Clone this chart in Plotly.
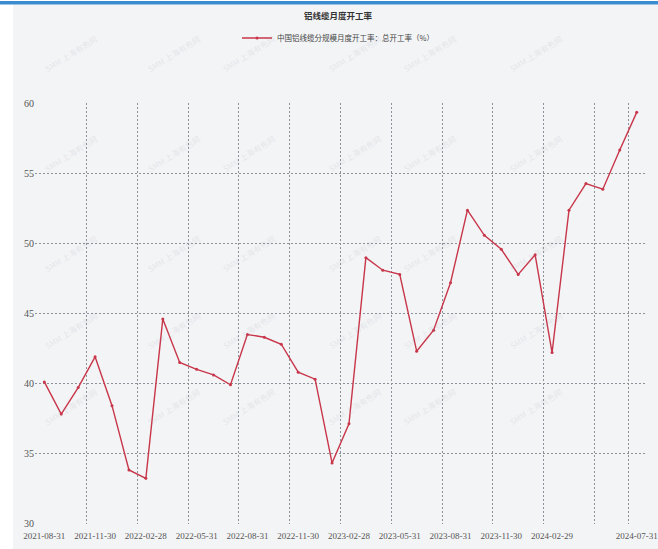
import plotly.graph_objects as go

# ---- data ----
dates = [
    "2021-08-31", "2021-09-30", "2021-10-31", "2021-11-30", "2021-12-31",
    "2022-01-31", "2022-02-28", "2022-03-31", "2022-04-30", "2022-05-31",
    "2022-06-30", "2022-07-31", "2022-08-31", "2022-09-30", "2022-10-31",
    "2022-11-30", "2022-12-31", "2023-01-31", "2023-02-28", "2023-03-31",
    "2023-04-30", "2023-05-31", "2023-06-30", "2023-07-31", "2023-08-31",
    "2023-09-30", "2023-10-31", "2023-11-30", "2023-12-31", "2024-01-31",
    "2024-02-29", "2024-03-31", "2024-04-30", "2024-05-31", "2024-06-30",
    "2024-07-31",
]
rate = [
    40.1, 37.8, 39.7, 41.9, 38.4, 33.8, 33.2, 44.6, 41.5, 41.0,
    40.6, 39.9, 43.5, 43.3, 42.8, 40.8, 40.3, 34.3, 37.1, 49.0,
    48.1, 47.8, 42.3, 43.8, 47.2, 52.4, 50.6, 49.6, 47.8, 49.2,
    42.2, 52.4, 54.3, 53.9, 56.7, 59.4,
]
label_idx = [0, 3, 6, 9, 12, 15, 18, 21, 24, 27, 30, 35]
grid_idx = [0, 3, 6, 9, 12, 15, 18, 21, 24, 27, 30, 33, 35]
y_ticks = [30, 35, 40, 45, 50, 55, 60]

title_text = "铝线缆月度开工率"
series_name = "中国铝线缆分规模月度开工率：总开工率（%）"
watermark = "SMM 上海有色网"

# ---- geometry helpers (pixel -> paper) ----
W, H = 658, 549
ML, MR, MT, MB = 35, 12, 103, 25
PW, PH = W - ML - MR, H - MT - MB


def px_x(px):
    return (px - ML) / PW


def px_y(py):
    return (H - MB - py) / PH


n = len(dates)
xi = list(range(n))

fig = go.Figure()
fig.add_trace(go.Scatter(
    x=xi, y=rate, name=series_name, mode="lines+markers",
    line=dict(color="#c8364a", width=1.4),
    marker=dict(color="#c8364a", size=3, symbol="circle"),
    customdata=dates,
    hovertemplate="%{customdata}<br>%{y}<extra></extra>",
))

grid_color = "#8e9099"
fig.update_xaxes(
    range=[-0.55, n - 0.45],
    automargin=False,
    tickmode="array",
    tickvals=label_idx,
    ticktext=[dates[i] for i in label_idx],
    showgrid=False, zeroline=False, showline=False, ticks="",
    ticklabelstandoff=5,
    ticklabeloverflow="allow",
    tickfont=dict(family="Liberation Sans Narrow", size=9, color="#555555"),
    minor=dict(
        tickmode="array",
        tickvals=[i - 0.5 for i in grid_idx] + [n - 0.5],
        showgrid=True, gridcolor=grid_color, griddash="2px,2px", gridwidth=1,
        ticks="",
    ),
)
fig.update_yaxes(
    range=[29.93, 60.07],
    automargin=False,
    tickmode="array", tickvals=y_ticks,
    showgrid=True, gridcolor=grid_color, griddash="2px,2px", gridwidth=1,
    zeroline=False, showline=False, ticks="",
    ticklabeloverflow="allow",
    tickfont=dict(family="Liberation Sans Narrow", size=10, color="#555555"),
)

shapes = [
    dict(type="rect", xref="paper", yref="paper", layer="below",
         x0=px_x(13), x1=px_x(W + 2), y0=px_y(4.5), y1=px_y(H + 2),
         fillcolor="#f3f4f6", line=dict(width=0)),
    dict(type="rect", xref="paper", yref="paper", layer="below",
         x0=px_x(-2), x1=px_x(W + 2), y0=px_y(1), y1=px_y(4.5),
         fillcolor="#3a8bd0", line=dict(width=0)),
]

annotations = []
for wy in [30, 130, 230, 330, 430]:
    for wx in [40, 143, 249, 355, 461, 567]:
        annotations.append(dict(
            text=watermark, xref="paper", yref="paper",
            x=px_x(wx), y=px_y(wy), showarrow=False, textangle=-32,
            font=dict(family="Noto Sans CJK SC", size=8,
                      color="rgba(160,162,172,0.2)"),
        ))

fig.update_layout(
    width=W, height=H,
    margin=dict(l=ML, r=MR, t=MT, b=MB, autoexpand=False),
    paper_bgcolor="#ffffff",
    plot_bgcolor="rgba(0,0,0,0)",
    title=dict(
        text="<b>" + title_text + "</b>",
        x=338 / W, xref="container", xanchor="center",
        y=1 - 16 / H, yref="container", yanchor="middle",
        font=dict(family="Noto Sans CJK SC", size=8.5, color="#333333"),
    ),
    showlegend=True,
    legend=dict(
        orientation="h", xref="container", yref="container",
        x=338 / W, xanchor="center", y=1 - 38 / H, yanchor="middle",
        font=dict(family="Noto Sans CJK SC", size=7.5, color="#444444"),
        bgcolor="rgba(0,0,0,0)", itemwidth=30,
    ),
    shapes=shapes,
    annotations=annotations,
    hovermode="closest",
)

fig.write_html(
    "out.html",
    config={"displayModeBar": False},
    post_script="document.body.style.margin='0';document.body.style.overflow='hidden';",
)
